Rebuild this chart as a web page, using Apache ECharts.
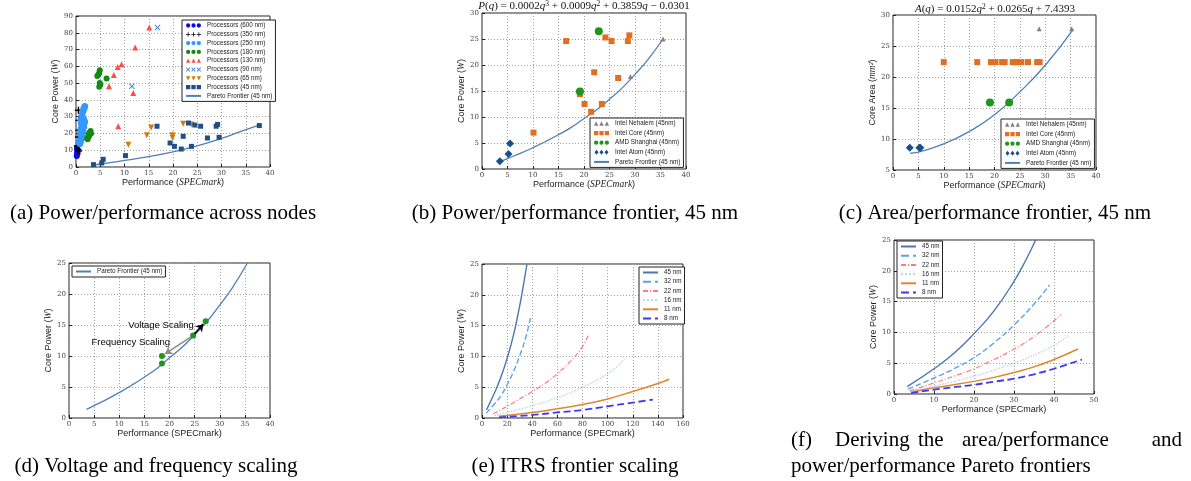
<!DOCTYPE html>
<html>
<head>
<meta charset="utf-8">
<script src="https://cdn.jsdelivr.net/npm/echarts@6/dist/echarts.min.js"></script>
<style>
html,body{margin:0;padding:0;background:#fff;}
#main{width:1191px;height:481px;}
</style>
</head>
<body>
<div id="main"></div>
<script>
// (a) power/performance across nodes
var n600 = [[0.15,6.5],[0.2,7.5],[0.3,8.5],[0.25,9.5],[0.35,10.5],[0.2,11.5],[0.3,8]];
var n350 = [[0.5,33.8],[0.6,27.8],[0.6,21.9],[0.7,19.9],[0.5,17.9],[0.3,12.5],[0.4,10.5],[0.5,9.5]];
var n250 = [[1.8,36],[1.6,34.5],[1.4,33],[1.2,30.5],[1.0,28],[1.5,29],[1.8,27],[1.3,25],[1.0,22.5],
            [0.9,20],[1.2,18],[1.0,16],[0.8,14],[1.4,21],[1.6,24],[0.7,15],[1.1,26]];
var n180 = [[4.9,57.6],[4.8,56],[4.6,55],[4.4,54.3],[4.9,50],[4.8,47.8],[5.0,49],[6.3,52.7],
            [2.3,17],[2.5,18],[2.6,19.5],[2.8,20.5],[3.0,21.5],[2.4,16.5],[2.7,18.5],[3.1,20]];
var n130 = [[15.1,83.1],[12.2,71.2],[9.4,61.2],[8.6,59.6],[7.8,54.9],[6.8,48.1],[11.8,44.1],[8.7,24.3]];
var n90  = [[16.8,83.1],[11.5,48.1]];
var n65  = [[10.8,13.3],[14.6,18.9],[15.5,23.5],[19.9,18.9],[19.9,17.5],[22.1,25.8],[23.8,25.4]];
var n45  = [[3.6,1.4],[5.3,2.4],[5.6,4.6],[10.2,6.8],[16.7,24.3],[19.4,14.3],[20.3,12.3],[21.7,10.7],
            [22.1,18.3],[23.2,26.2],[23.8,12.3],[24.5,25],[25.7,24.3],[27.1,17.3],[28.9,24.3],
            [29.2,25.4],[29.5,17.7],[37.8,24.7]];
var frontierA_q = [3.6,7,10,15,20,25,30,34,37.6];
var frontierA_p = [1.2,2.6,3.9,6.2,9,12.6,17,21.2,24.8];

// (b) power/performance frontier, 45 nm
var nehalemPow = [[29.1,17.8],[35.5,25]];
var corePow = [[10.1,7],[16.5,24.6],[19.2,14.4],[20.1,12.5],[21.4,11],[22,18.6],[23.5,12.5],
               [24.2,25.3],[25.4,24.6],[26.7,17.5],[28.6,24.6],[28.9,25.7]];
var amdPow = [[19.2,14.9],[22.9,26.5]];
var atomPow = [[3.5,1.5],[5.2,2.9],[5.5,4.9]];
var frontier_q = [3.5,5,7.5,10,12.5,15,17.5,20,22.5,25,27.5,30,32.5,35.5];
var frontier_p = [1.4,2.0,3.0,4.1,5.3,6.6,8.0,9.7,11.4,13.4,15.6,18.2,21.0,25];

// (c) area/performance frontier, 45 nm
var nehalemArea = [[28.8,27.8],[35.2,27.8]];
var coreArea = [[10,22.4],[16.6,22.4],[19.3,22.4],[20.2,22.4],[21.5,22.4],[22,22.4],[23.6,22.4],
                [24.1,22.4],[24.4,22.4],[25.3,22.4],[26.6,22.4],[28.4,22.4],[28.9,22.4]];
var amdArea = [[19.1,15.9],[22.9,15.9]];
var atomArea = [[3.3,8.6],[5.2,8.6],[5.4,8.6]];
var areaFront_q = [3.4,5,10,15,20,25,30,35.5];
var areaFront_a = [7.7,7.9,9.2,11.2,13.9,17.6,21.9,27.7];

// (d) voltage and frequency scaling
var scalePts = [[18.5,10],[18.5,8.8],[24.7,13.3],[27.2,15.6]];

// (e) ITRS frontier scaling
var nodeNames = ['45 nm','32 nm','22 nm','16 nm','11 nm','8 nm'];
var itrs = [
  [[3.5,1.3],[10,4.1],[15,6.6],[20,9.7],[25,13.4],[30,18.2],[33,21.6],[35.8,25]],
  [[3.4,0.8],[10,2.3],[15,3.6],[20,5.4],[25,7.5],[30,10.1],[35,13.2],[38.5,16.2]],
  [[8.8,0.7],[20,1.9],[30,3.1],[40,4.3],[50,5.6],[60,7.2],[70,9.1],[80,11.6],[85,13.7]],
  [[10,0.4],[20,0.9],[40,2.0],[60,3.3],[80,5.0],[100,7.2],[114,9.6]],
  [[13.5,0.3],[40,0.9],[60,1.5],[80,2.2],[100,3.1],[120,4.3],[140,5.6],[149,6.3]],
  [[13.5,0.1],[40,0.5],[60,0.9],[80,1.3],[100,1.9],[120,2.5],[136,3.0]]
];

// (f) deriving the frontiers
var derived = [
  [[3.3,1.2],[10,4.1],[15,6.6],[20,9.8],[25,13.5],[30,18.3],[33,21.8],[35.4,25]],
  [[3.5,0.8],[10,2.6],[15,4.1],[20,5.9],[25,8.3],[30,11.2],[35,14.6],[38.9,17.7]],
  [[3.9,0.5],[10,1.8],[15,2.9],[20,4.1],[25,5.6],[30,7.3],[35,9.3],[41.8,12.9]],
  [[3.9,0.4],[10,1.3],[15,2.0],[20,2.9],[25,3.9],[30,5.0],[35,6.3],[40,7.9],[43.9,9.6]],
  [[4.2,0.3],[10,1.0],[15,1.5],[20,2.05],[25,2.7],[30,3.5],[35,4.4],[40,5.6],[46,7.3]],
  [[4.3,0.15],[10,0.7],[15,1.1],[20,1.5],[25,2.0],[30,2.5],[35,3.2],[40,4.1],[47,5.6]]
];

var nodeStyles = [
  {color:'#4a76ad', type:'solid', width:1.4},
  {color:'#58a2ee', type:'dashed', width:1.4},
  {color:'#ff7b7b', type:[5,2,1,2], width:1.2},
  {color:'#b9d5f0', type:'dotted', width:1.4},
  {color:'#e0862f', type:'solid', width:1.5},
  {color:'#3b3bf5', type:'dashed', width:1.8}
];

function pairs(xs, ys) {
  var out = [];
  for (var i = 0; i < xs.length; i++) out.push([xs[i], ys[i]]);
  return out;
}

// three-marker legend icons, like the matplotlib legend
function triple(fn) { return 'path://' + [0, 10, 20].map(fn).join(' '); }
var icSquare = triple(function (o) { return 'M' + (o+1) + ',1H' + (o+9) + 'V9H' + (o+1) + 'Z'; });
var icCircle = triple(function (o) { return 'M' + (o+1) + ',5a4,4 0 1,0 8,0a4,4 0 1,0 -8,0Z'; });
var icTri = triple(function (o) { return 'M' + (o+1) + ',9L' + (o+5) + ',1L' + (o+9) + ',9Z'; });
var icDown = triple(function (o) { return 'M' + (o+1) + ',1H' + (o+9) + 'L' + (o+5) + ',9Z'; });
var icDiamond = triple(function (o) { return 'M' + (o+5) + ',0L' + (o+9) + ',5L' + (o+5) + ',10L' + (o+1) + ',5Z'; });
var icPlus = triple(function (o) {
  return 'M' + (o+4.3) + ',1H' + (o+5.7) + 'V4.3H' + (o+9) + 'V5.7H' + (o+5.7) + 'V9H' + (o+4.3) +
         'V5.7H' + (o+1) + 'V4.3H' + (o+4.3) + 'Z';
});
var icCross = triple(function (o) {
  return 'M' + (o+1) + ',2L' + (o+2) + ',1L' + (o+5) + ',4L' + (o+8) + ',1L' + (o+9) + ',2L' + (o+6) +
         ',5L' + (o+9) + ',8L' + (o+8) + ',9L' + (o+5) + ',6L' + (o+2) + ',9L' + (o+1) + ',8L' + (o+4) + ',5Z';
});

var chart = echarts.init(document.getElementById('main'));

var tickLabel = {fontSize:7, color:'#444', fontFamily:'DejaVu Serif', margin:3};
var nameStyle = {fontFamily:'Liberation Sans', fontSize:9, color:'#222',
  rich:{i:{fontFamily:'Liberation Serif', fontStyle:'italic', fontSize:9.5, color:'#222'}}};

function grid(l, t, w, h) {
  return {left:l, top:t, width:w, height:h, show:true, borderColor:'#222', borderWidth:1,
          backgroundColor:'transparent'};
}
function axis(gi, min, max, step, name, isY) {
  return {type:'value', gridIndex:gi, min:min, max:max, interval:step,
    name:name, nameLocation:'middle', nameGap:isY ? 6 : 10, nameRotate:isY ? 90 : 0,
    nameTextStyle:nameStyle,
    axisLine:{show:false},
    axisTick:{show:true, inside:true, length:3, lineStyle:{color:'#222'}},
    axisLabel:tickLabel,
    splitLine:{show:true, lineStyle:{color:'#a0a0a0', type:[1,2], width:1}}};
}
function legend(items, l, t, gap) {
  return {data:items, left:l, top:t, orient:'vertical', itemGap:gap, itemWidth:15, itemHeight:5,
    padding:[2,3,2,3], borderColor:'#222', borderWidth:1, borderRadius:0, backgroundColor:'#fff',
    selectedMode:false,
    textStyle:{fontSize:6.3, lineHeight:7, fontFamily:'Liberation Sans', color:'#222', padding:[0,0,0,1]}};
}
function lineItem(name) { return {name:name, itemStyle:{opacity:0}}; }
function scatter(name, gi, data, symbol, size, color) {
  return {type:'scatter', name:name, xAxisIndex:gi, yAxisIndex:gi, data:data, symbol:symbol,
    symbolSize:size, itemStyle:{color:color, opacity:1}, animation:false, z:3};
}
function line(name, gi, data, style) {
  return {type:'line', name:name, xAxisIndex:gi, yAxisIndex:gi, data:data, smooth:true,
    showSymbol:false, symbol:'none', lineStyle:style, itemStyle:{color:style.color},
    animation:false, z:2};
}

var plusSym = 'path://M4,0H6V4H10V6H6V10H4V6H0V4H4Z';
var xSym = 'path://M0,1L1,0L5,4L9,0L10,1L6,5L10,9L9,10L5,6L1,10L0,9L4,5Z';
var downTri = 'path://M0,0H10L5,9Z';
var frontLine = {color:'#4f7fb5', width:1.3, type:'solid'};

var perfItalic = 'Performance ({i|SPECmark})';
var powItalic = 'Core Power ({i|W})';

var series = [];
// (a)
series.push(scatter('Processors (600 nm)', 0, n600, 'circle', 6, '#0a0af0'));
series.push(scatter('Processors (350 nm)', 0, n350, plusSym, 7, '#000'));
series.push(scatter('Processors (250 nm)', 0, n250, 'circle', 7, '#3399ff'));
series.push(scatter('Processors (180 nm)', 0, n180, 'circle', 6, '#138a13'));
series.push(scatter('Processors (130 nm)', 0, n130, 'triangle', 6, '#ff4d4d'));
series.push(scatter('Processors (90 nm)', 0, n90, xSym, 6, '#2b7bd0'));
series.push(scatter('Processors (65 nm)', 0, n65, downTri, 6, '#d07a10'));
series.push(scatter('Processors (45 nm)', 0, n45, 'rect', 5, '#1f4e89'));
series.push(line('Pareto Frontier (45 nm)', 0, pairs(frontierA_q, frontierA_p), frontLine));
// (b)
series.push(scatter('Intel Nehalem (45nm)', 1, nehalemPow, 'triangle', 5, '#808080'));
series.push(scatter('Intel Core (45nm)', 1, corePow, 'rect', 6, '#e07020'));
series.push(scatter('AMD Shanghai (45nm)', 1, amdPow, 'circle', 8, '#1e961e'));
series.push(scatter('Intel Atom (45nm)', 1, atomPow, 'diamond', 8, '#1b4f8c'));
series.push(line('Pareto Frontier (45 nm)', 1, pairs(frontier_q, frontier_p), frontLine));
// (c)
series.push(scatter('Intel Nehalem (45nm)', 2, nehalemArea, 'triangle', 5, '#808080'));
series.push(scatter('Intel Core (45nm)', 2, coreArea, 'rect', 6, '#e07020'));
series.push(scatter('AMD Shanghai (45nm)', 2, amdArea, 'circle', 8, '#1e961e'));
series.push(scatter('Intel Atom (45nm)', 2, atomArea, 'diamond', 8, '#1b4f8c'));
series.push(line('Pareto Frontier (45 nm)', 2, pairs(areaFront_q, areaFront_a), frontLine));
// (d)
series.push(line('Pareto Frontier (45 nm)', 3, pairs(frontier_q, frontier_p), frontLine));
function towards(a, b, f) { return [a[0] + (b[0] - a[0]) * f, a[1] + (b[1] - a[1]) * f]; }
var dScatter = scatter('scaling', 3, scalePts, 'circle', 6, '#1e961e');
dScatter.z = 4;
dScatter.markLine = {silent:true, animation:false, symbol:['none','arrow'], symbolSize:7,
  label:{show:false},
  data:[
    [{coord:towards(scalePts[2], scalePts[3], 0.12), lineStyle:{color:'#000', width:1.6, type:'solid'}},
     {coord:towards(scalePts[2], scalePts[3], 0.8)}],
    [{coord:towards(scalePts[2], scalePts[0], 0.08), lineStyle:{color:'#8c8c8c', width:1.6, type:'solid'}},
     {coord:towards(scalePts[2], scalePts[0], 0.9)}]
  ]};
dScatter.markPoint = {silent:true, animation:false, symbol:'circle', symbolSize:0,
  label:{show:true, position:'inside', fontSize:9.5, fontFamily:'Liberation Sans', color:'#000'},
  data:[
    {coord:[18.3,14.9], label:{formatter:'Voltage Scaling'}},
    {coord:[12.3,12.2], label:{formatter:'Frequency Scaling'}}
  ]};
series.push(dScatter);
// (e) and (f)
for (var k = 0; k < nodeNames.length; k++) {
  series.push(line(nodeNames[k], 4, itrs[k], nodeStyles[k]));
  series.push(line(nodeNames[k], 5, derived[k], nodeStyles[k]));
}

var mathRich = {
  n:{fontFamily:'Liberation Serif', fontSize:11, fontWeight:'normal', color:'#111', lineHeight:13},
  i:{fontFamily:'Liberation Serif', fontStyle:'italic', fontWeight:'normal', fontSize:11, color:'#111', lineHeight:13},
  s:{fontFamily:'Liberation Serif', fontSize:7.5, fontWeight:'normal', color:'#111', verticalAlign:'top', lineHeight:8}
};

var capFont = '21px "Liberation Serif"';
function caption(text, x, y, align) {
  return {type:'text', x:x, y:y, silent:true,
    style:{text:text, font:capFont, fill:'#000', align:align, textAlign:align,
           verticalAlign:'middle', textVerticalAlign:'middle'}};
}

var coreItems = [
  {name:'Intel Nehalem (45nm)', icon:icTri},
  {name:'Intel Core (45nm)', icon:icSquare},
  {name:'AMD Shanghai (45nm)', icon:icCircle},
  {name:'Intel Atom (45nm)', icon:icDiamond},
  lineItem('Pareto Frontier (45 nm)')
];

var option = {
  backgroundColor:'#fff',
  animation:false,
  title:[
    {text:'{i|P}{n|(}{i|q}{n|) = 0.0002}{i|q}{s|3}{n| + 0.0009}{i|q}{s|2}{n| + 0.3859}{i|q}{n| − 0.0301}',
     left:584, top:0, textAlign:'center', padding:0, textStyle:{fontWeight:'normal', rich:mathRich}},
    {text:'{i|A}{n|(}{i|q}{n|) = 0.0152}{i|q}{s|2}{n| + 0.0265}{i|q}{n| + 7.4393}',
     left:995, top:3, textAlign:'center', padding:0, textStyle:{fontWeight:'normal', rich:mathRich}}
  ],
  grid:[
    grid(76,16,194,151),
    grid(482,13,204,156),
    grid(893,15,203,155),
    grid(69,263,201,155),
    grid(482,264,201,154),
    grid(894,240,200,154)
  ],
  xAxis:[
    axis(0,0,40,5,perfItalic,false),
    axis(1,0,40,5,perfItalic,false),
    axis(2,0,40,5,perfItalic,false),
    axis(3,0,40,5,'Performance (SPECmark)',false),
    axis(4,0,160,20,'Performance (SPECmark)',false),
    axis(5,0,50,10,'Performance (SPECmark)',false)
  ],
  yAxis:[
    axis(0,0,90,10,powItalic,true),
    axis(1,0,30,5,powItalic,true),
    axis(2,5,30,5,'Core Area ({i|mm²})',true),
    axis(3,0,25,5,powItalic,true),
    axis(4,0,25,5,powItalic,true),
    axis(5,0,25,5,powItalic,true)
  ],
  legend:[
    legend([
      {name:'Processors (600 nm)', icon:icCircle},
      {name:'Processors (350 nm)', icon:icPlus},
      {name:'Processors (250 nm)', icon:icCircle},
      {name:'Processors (180 nm)', icon:icCircle},
      {name:'Processors (130 nm)', icon:icTri},
      {name:'Processors (90 nm)', icon:icCross},
      {name:'Processors (65 nm)', icon:icDown},
      {name:'Processors (45 nm)', icon:icSquare},
      lineItem('Pareto Frontier (45 nm)')
    ], 182, 20, 1.8),
    legend(coreItems, 590, 118, 2.6),
    legend(coreItems, 1001, 119, 2.6),
    legend([lineItem('Pareto Frontier (45 nm)')], 72, 266, 2),
    legend(nodeNames.map(lineItem), 639, 267, 2.2),
    legend(nodeNames.map(lineItem), 897, 241, 2.2)
  ],
  graphic:[
    caption('(a) Power/performance across nodes', 163, 213, 'center'),
    caption('(b) Power/performance frontier, 45 nm', 575, 213, 'center'),
    caption('(c) Area/performance frontier, 45 nm', 995, 213, 'center'),
    caption('(d) Voltage and frequency scaling', 156, 466, 'center'),
    caption('(e) ITRS frontier scaling', 575, 466, 'center'),
    caption('(f)', 791, 440, 'left'),
    caption('Deriving', 835, 440, 'left'),
    caption('the', 918, 440, 'left'),
    caption('area/performance', 962, 440, 'left'),
    caption('and', 1182, 440, 'right'),
    caption('power/performance Pareto frontiers', 791, 466, 'left')
  ],
  series:series
};

chart.setOption(option);
</script>
</body>
</html>
